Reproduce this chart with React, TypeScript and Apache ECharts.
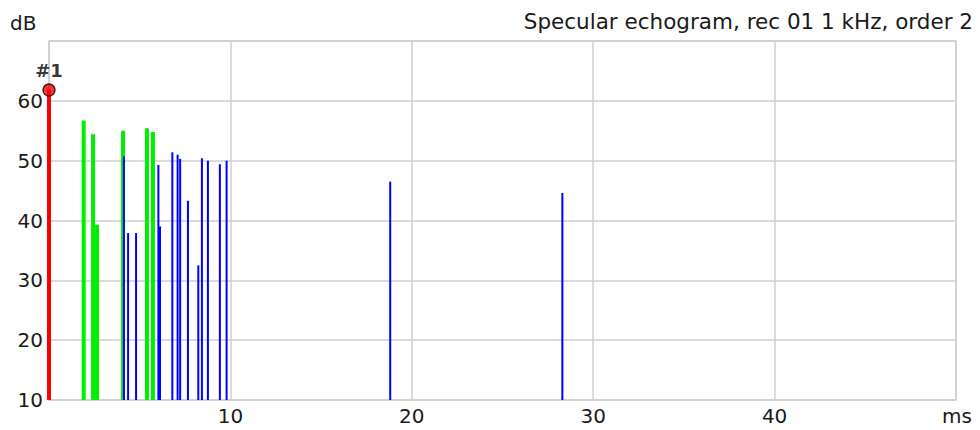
import React, { useEffect, useRef } from "react";
import * as echarts from "echarts";

// Direct sound (#1)
const directTimes = [0];
const directLevels = [61.8];

// First-order reflections (green)
const firstOrderTimes = [1.91, 2.43, 2.65, 4.08, 5.4, 5.73];
const firstOrderLevels = [56.7, 54.4, 39.3, 55.0, 55.4, 54.8];

// Second-order reflections (blue)
const secondOrderTimes = [4.13, 4.36, 4.8, 6.03, 6.12, 6.8, 7.09, 7.23, 7.66, 8.23, 8.43, 8.76, 9.42, 9.79, 18.81, 28.3];
const secondOrderLevels = [50.7, 37.9, 37.9, 49.3, 39.0, 51.4, 51.0, 50.3, 43.3, 32.5, 50.4, 50.0, 49.4, 50.0, 46.5, 44.6];

const xTicks = [0, 10, 20, 30, 40, 50];
const yTicks = [10, 20, 30, 40, 50, 60, 70];

const TITLE = "Specular echogram, rec 01 1 kHz, order 2";
const FONT = "DejaVu Sans";

function barRenderer(width: number, color: string, base: number) {
  return (params: any, api: any) => {
    const x = api.value(0);
    const y = api.value(1);
    const top = api.coord([x, y]);
    const bot = api.coord([x, base]);
    return {
      type: "rect",
      shape: { x: top[0] - width / 2, y: top[1], width, height: bot[1] - top[1] },
      style: { fill: color },
    };
  };
}

export default function App() {
  const ref = useRef<HTMLDivElement>(null);
  useEffect(() => {
    if (!ref.current) return;
    const chart = echarts.init(ref.current, undefined, { renderer: "svg" });
    const xMin = xTicks[0];
    const xMax = xTicks[xTicks.length - 1];
    const yMin = yTicks[0];
    const yMax = yTicks[yTicks.length - 1];
    const gridColor = "#cfcfcf";
    const zip = (a: number[], b: number[]) => a.map((v, i) => [v, b[i]]);
    chart.setOption({
      animation: false,
      backgroundColor: "#ffffff",
      grid: {
        left: 49,
        right: 24,
        top: 41,
        bottom: 30,
        show: true,
        borderColor: gridColor,
        borderWidth: 1.5,
        containLabel: false,
      },
      xAxis: {
        type: "value",
        min: xMin,
        max: xMax,
        interval: 10,
        axisLine: { show: false },
        axisTick: { show: false },
        splitLine: { show: true, lineStyle: { color: gridColor, width: 1.5 } },
        axisLabel: {
          show: true,
          showMinLabel: false,
          showMaxLabel: false,
          margin: 6,
          fontFamily: FONT,
          fontSize: 20,
          color: "#1a1a1a",
        },
      },
      yAxis: {
        type: "value",
        min: yMin,
        max: yMax,
        interval: 10,
        axisLine: { show: false },
        axisTick: { show: false },
        splitLine: { show: true, lineStyle: { color: gridColor, width: 1.5 } },
        axisLabel: {
          show: true,
          showMaxLabel: false,
          margin: 6,
          fontFamily: FONT,
          fontSize: 20,
          color: "#1a1a1a",
        },
      },
      graphic: [
        {
          type: "text",
          right: 7,
          top: 10,
          style: {
            text: TITLE,
            font: `21.5px "${FONT}"`,
            fill: "#1a1a1a",
          },
        },
        {
          type: "text",
          left: 10,
          top: 13,
          style: {
            text: "dB",
            font: `20px "${FONT}"`,
            fill: "#1a1a1a",
          },
        },
        {
          type: "text",
          right: 8,
          top: 406,
          style: {
            text: "ms",
            font: `20px "${FONT}"`,
            fill: "#1a1a1a",
          },
        },
      ],
      series: [
        {
          type: "custom",
          renderItem: barRenderer(4, "#00ee00", yMin),
          data: zip(firstOrderTimes, firstOrderLevels),
          clip: true,
          z: 2,
        },
        {
          type: "custom",
          renderItem: barRenderer(2, "#0000ff", yMin),
          data: zip(secondOrderTimes, secondOrderLevels),
          clip: true,
          z: 3,
        },
        {
          type: "custom",
          renderItem: barRenderer(4, "#ff0000", yMin),
          data: zip(directTimes, directLevels),
          clip: false,
          z: 4,
        },
        {
          type: "scatter",
          data: zip(directTimes, directLevels),
          symbol: "circle",
          symbolSize: 12,
          itemStyle: { color: "#ff0000", borderColor: "#000000", borderWidth: 1.3 },
          label: {
            show: true,
            position: "top",
            distance: 4,
            formatter: "#1",
            fontFamily: FONT,
            fontSize: 18,
            fontWeight: "bold",
            color: "#000000",
          },
          clip: false,
          z: 5,
        },
      ],
    });
    return () => chart.dispose();
  }, []);
  return (
    <div
      ref={ref}
      style={{ position: "fixed", left: 0, top: 0, width: 980, height: 430 }}
    />
  );
}
